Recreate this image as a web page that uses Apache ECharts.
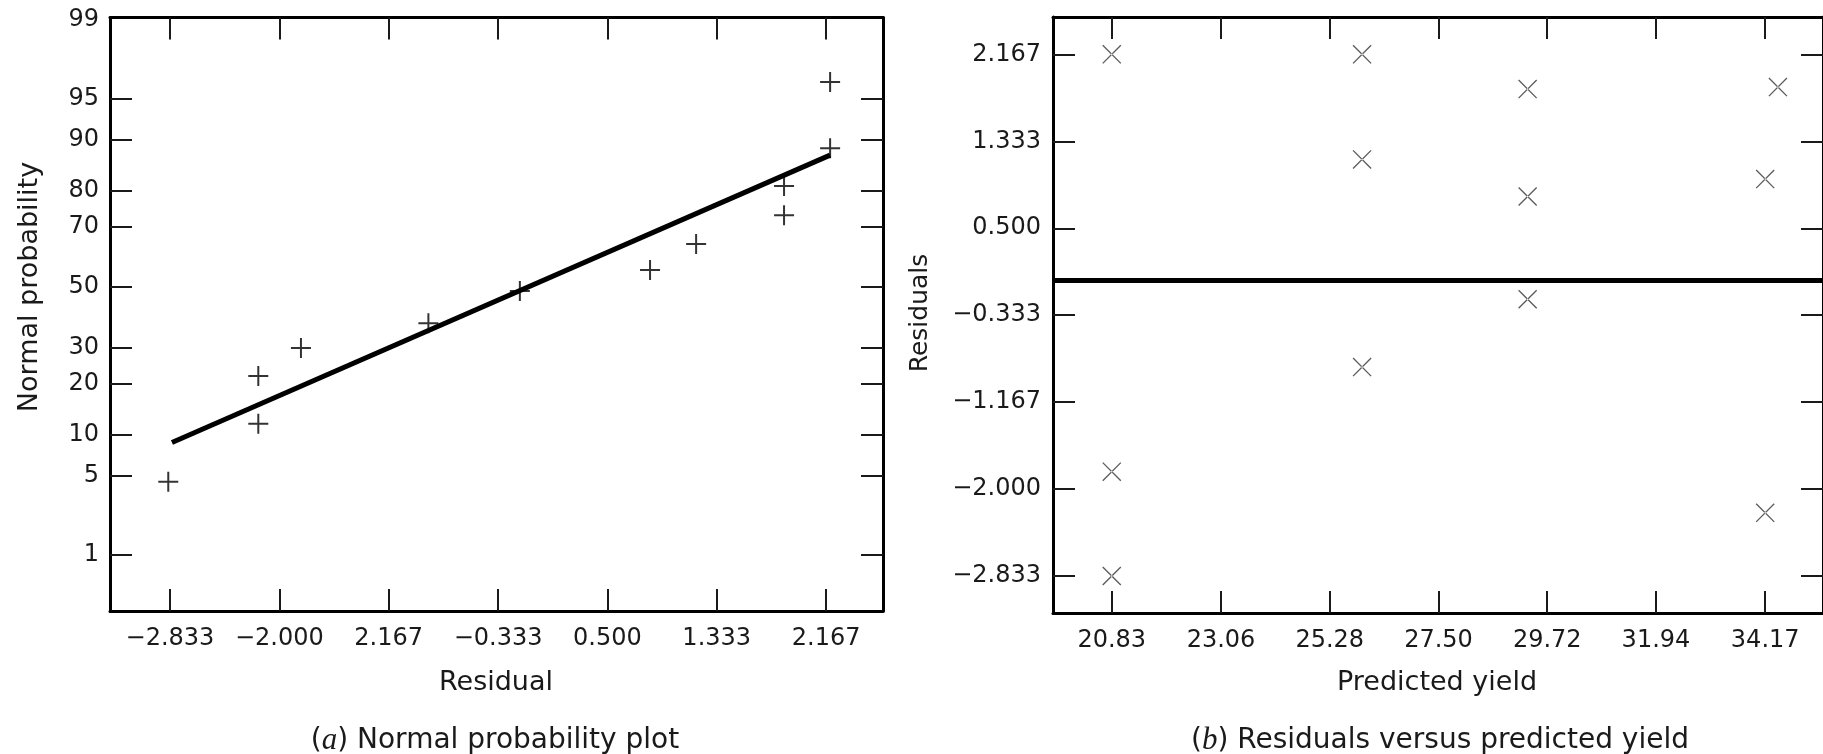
<!DOCTYPE html>
<html>
<head>
<meta charset="utf-8">
<title>Residual analysis</title>
<script src="https://cdn.jsdelivr.net/npm/echarts@6/dist/echarts.min.js"></script>
<style>
  html, body { margin: 0; padding: 0; background: #fff; }
  #chart { width: 1823px; height: 754px; }
</style>
</head>
<body>
<div id="chart"></div>
<script>
// ---- Panel (a): normal probability plot of the residuals ----
const residualTicks = [-2.833, -2.000, -1.167, -0.333, 0.500, 1.333, 2.167];
const residualTickLabels = ['−2.833', '−2.000', '2.167', '−0.333', '0.500', '1.333', '2.167'];
const residualRange = [-3.29, 2.60];
const probLabelValues = [1, 5, 10, 20, 30, 50, 70, 80, 90, 95, 99];
const probTickValues = [1, 5, 10, 20, 30, 50, 70, 80, 90, 95];
const probRange = [0.24, 99.06];
const sortedResiduals = [-2.846, -2.160, -2.160, -1.835, -0.864, -0.167, 0.825, 1.176, 1.846, 1.846, 2.197, 2.197];
const normalProbability = [4.5, 11.7, 22.0, 29.8, 37.7, 48.7, 56.0, 64.7, 73.5, 81.1, 88.7, 96.3];
const fitResidual = [-2.818, 2.197];
const fitProbability = [8.8, 87.5];

// ---- Panel (b): residuals versus predicted yield ----
const yieldTicks = [20.83, 23.06, 25.28, 27.50, 29.72, 31.94, 34.17];
const yieldTickLabels = ['20.83', '23.06', '25.28', '27.50', '29.72', '31.94', '34.17'];
const yieldRange = [19.63, 35.35];
const residTicks = [2.167, 1.333, 0.500, -0.333, -1.167, -2.000, -2.833];
const residTickLabels = ['2.167', '1.333', '0.500', '−0.333', '−1.167', '−2.000', '−2.833'];
const residRange = [-3.188, 2.525];
const predictedYield = [20.83, 20.83, 20.83, 25.94, 25.94, 25.94, 29.32, 29.32, 29.32, 34.43, 34.17, 34.17];
const residuals = [2.167, -1.833, -2.833, 2.167, 1.160, -0.831, 1.834, 0.804, -0.180, 1.853, 0.971, -2.228];

// Normal-probability scale: percent -> standard normal quantile (Acklam's approximation)
function probit(pct) {
  const p = pct / 100;
  const a = [-3.969683028665376e+01, 2.209460984245205e+02, -2.759285104469687e+02, 1.383577518672690e+02, -3.066479806614716e+01, 2.506628277459239e+00];
  const b = [-5.447609879822406e+01, 1.615858368580409e+02, -1.556989798598866e+02, 6.680131188771972e+01, -1.328068155288572e+01];
  const c = [-7.784894002430293e-03, -3.223964580411365e-01, -2.400758277161838e+00, -2.549732539343734e+00, 4.374664141464968e+00, 2.938163982698783e+00];
  const d = [7.784695709041462e-03, 3.224671290700398e-01, 2.445134137142996e+00, 3.754408661907416e+00];
  const pl = 0.02425;
  let q, r;
  if (p < pl) {
    q = Math.sqrt(-2 * Math.log(p));
    return (((((c[0]*q+c[1])*q+c[2])*q+c[3])*q+c[4])*q+c[5]) / ((((d[0]*q+d[1])*q+d[2])*q+d[3])*q+1);
  }
  if (p > 1 - pl) {
    q = Math.sqrt(-2 * Math.log(1 - p));
    return -(((((c[0]*q+c[1])*q+c[2])*q+c[3])*q+c[4])*q+c[5]) / ((((d[0]*q+d[1])*q+d[2])*q+d[3])*q+1);
  }
  q = p - 0.5; r = q * q;
  return (((((a[0]*r+a[1])*r+a[2])*r+a[3])*r+a[4])*r+a[5])*q / (((((b[0]*r+b[1])*r+b[2])*r+b[3])*r+b[4])*r+1);
}

function lookup(values, labels) {
  return function (v) {
    for (let i = 0; i < values.length; i++) {
      if (Math.abs(values[i] - v) < 1e-4) return labels[i];
    }
    return '';
  };
}

const INK = '#1a1a1a';
const FONT = 'DejaVu Sans';
const frameLine = { show: true, onZero: false, lineStyle: { color: '#000', width: 3 } };
function ticks(values) {
  return { show: true, inside: true, length: 22, customValues: values, lineStyle: { color: INK, width: 2 } };
}
function labels(values, names, margin) {
  return {
    show: true, customValues: values, formatter: lookup(values, names), margin: margin,
    fontFamily: FONT, fontSize: 24, color: INK
  };
}
function valueAxis(grid, position, range, tickVals, labelCfg) {
  return {
    type: 'value', gridIndex: grid, position: position,
    min: range[0], max: range[1], scale: true,
    axisLine: frameLine, axisTick: ticks(tickVals),
    axisLabel: labelCfg || { show: false },
    splitLine: { show: false }
  };
}

const probTickZ = probTickValues.map(probit);
const probLabelZ = probLabelValues.map(probit);
const probZRange = probRange.map(probit);

// "+" and "x" marker outlines built from thin filled bars
const plusPath = 'path://M-1,-10L1,-10L1,10L-1,10Z M-10,-1L10,-1L10,1L-10,1Z';
const crossPath = 'path://M-10,-9L-9,-10L10,9L9,10Z M-10,9L-9,10L10,-9L9,-10Z';

const option = {
  animation: false,
  backgroundColor: '#fff',
  grid: [
    { left: 110, top: 17.5, width: 773, height: 593.5 },
    { left: 1053, top: 17, width: 772, height: 596 }
  ],
  xAxis: [
    valueAxis(0, 'bottom', residualRange, residualTicks, labels(residualTicks, residualTickLabels, 16)),
    valueAxis(0, 'top', residualRange, residualTicks),
    valueAxis(1, 'bottom', yieldRange, yieldTicks, labels(yieldTicks, yieldTickLabels, 16)),
    valueAxis(1, 'top', yieldRange, yieldTicks)
  ],
  yAxis: [
    valueAxis(0, 'left', probZRange, probTickZ,
      labels(probLabelZ, probLabelValues.map(String), 11)),
    valueAxis(0, 'right', probZRange, probTickZ),
    valueAxis(1, 'left', residRange, residTicks, labels(residTicks, residTickLabels, 12)),
    valueAxis(1, 'right', residRange, residTicks)
  ],
  series: [
    {
      type: 'line', xAxisIndex: 0, yAxisIndex: 0, silent: true,
      data: fitResidual.map((x, i) => [x, probit(fitProbability[i])]),
      symbol: 'none', lineStyle: { color: '#000', width: 5 }, z: 3
    },
    {
      type: 'scatter', xAxisIndex: 0, yAxisIndex: 0, silent: true,
      data: sortedResiduals.map((x, i) => [x, probit(normalProbability[i])]),
      symbol: plusPath, symbolSize: 20, itemStyle: { color: '#000' }, z: 4
    },
    {
      type: 'scatter', xAxisIndex: 2, yAxisIndex: 2, silent: true,
      data: predictedYield.map((x, i) => [x, residuals[i]]),
      symbol: crossPath, symbolSize: 19, itemStyle: { color: '#333' }, z: 4,
      markLine: {
        silent: true, symbol: ['none', 'none'], label: { show: false },
        lineStyle: { color: '#000', width: 5, type: 'solid' },
        data: [{ yAxis: 0 }]
      }
    }
  ],
  graphic: [
    { type: 'text', x: 496, y: 683, style: { text: 'Residual', fontFamily: FONT, fontSize: 27, fill: INK, textAlign: 'center', textVerticalAlign: 'middle' } },
    { type: 'text', x: 1437, y: 683, style: { text: 'Predicted yield', fontFamily: FONT, fontSize: 27, fill: INK, textAlign: 'center', textVerticalAlign: 'middle' } },
    { type: 'text', x: 30, y: 287, rotation: Math.PI / 2, style: { text: 'Normal probability', fontFamily: FONT, fontSize: 27, fill: INK, textAlign: 'center', textVerticalAlign: 'middle' } },
    { type: 'text', x: 920, y: 313, rotation: Math.PI / 2, style: { text: 'Residuals', fontFamily: FONT, fontSize: 25, fill: INK, textAlign: 'center', textVerticalAlign: 'middle' } },
    { type: 'text', x: 495, y: 741, style: {
        text: '({i|a}) Normal probability plot', fontFamily: FONT, fontSize: 28, fill: INK,
        textAlign: 'center', textVerticalAlign: 'middle',
        rich: { i: { fontFamily: 'Liberation Serif', fontStyle: 'italic', fontSize: 31, fill: INK } }
      } },
    { type: 'text', x: 1440, y: 741, style: {
        text: '({i|b}) Residuals versus predicted yield', fontFamily: FONT, fontSize: 28, fill: INK,
        textAlign: 'center', textVerticalAlign: 'middle',
        rich: { i: { fontFamily: 'Liberation Serif', fontStyle: 'italic', fontSize: 31, fill: INK } }
      } }
  ]
};

const chart = echarts.init(document.getElementById('chart'), null, { renderer: 'canvas' });
chart.setOption(option);
</script>
</body>
</html>
